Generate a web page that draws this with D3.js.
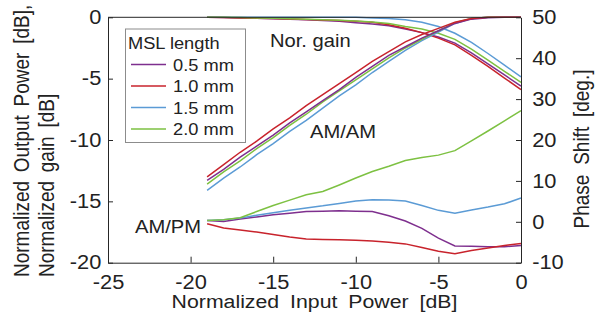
<!DOCTYPE html>
<html>
<head>
<meta charset="utf-8">
<script src="https://cdn.jsdelivr.net/npm/d3@7"></script>
<style>
  body { margin: 0; background: #fff; }
  svg { display: block; font-family: "Liberation Sans", Arial, sans-serif; }
  text { fill: #222; }
</style>
</head>
<body>
<div id="chart"></div>
<script>
// input power points shared by every curve (dB)
const inputPower = [-19, -18, -17, -16, -15, -14, -13, -12, -11, -10, -9, -8, -7, -6, -5, -4, -3, -2, -1, 0];

const mslLengths = ['0.5 mm', '1.0 mm', '1.5 mm', '2.0 mm'];
const lineColors = ['#7E2F8E', '#C8232C', '#5B9BD5', '#7DC142'];

// AM/AM, normalized output power [dB]
const amam05 = [-13.3, -12.4, -11.4, -10.5, -9.6, -8.6, -7.7, -6.8, -5.9, -4.9, -4.0, -3.1, -2.4, -1.7, -1.1, -0.5, -0.15, -0.03, 0, 0];
const amam10 = [-13.0, -12.0, -11.0, -10.1, -9.1, -8.2, -7.2, -6.3, -5.4, -4.5, -3.6, -2.8, -2.0, -1.4, -0.9, -0.4, -0.1, 0, 0, 0];
const amam15 = [-14.1, -13.1, -12.2, -11.2, -10.3, -9.3, -8.4, -7.4, -6.4, -5.5, -4.5, -3.6, -2.7, -1.9, -1.2, -0.5, -0.1, 0, 0, 0];
const amam20 = [-13.6, -12.6, -11.7, -10.7, -9.8, -8.8, -7.9, -6.9, -6.0, -5.1, -4.2, -3.3, -2.5, -1.8, -1.1, -0.45, -0.1, 0, 0, 0];

// normalized gain [dB]
const gain05 = [0, -0.02, -0.05, -0.08, -0.12, -0.16, -0.2, -0.26, -0.33, -0.45, -0.55, -0.68, -0.95, -1.25, -1.6, -2.1, -2.9, -3.8, -4.7, -5.6];
const gain10 = [0, -0.02, -0.05, -0.08, -0.1, -0.13, -0.17, -0.22, -0.27, -0.33, -0.4, -0.6, -0.9, -1.25, -1.7, -2.25, -3.1, -4.0, -4.95, -5.9];
const gain15 = [0, 0, 0, 0, 0, 0, 0, 0, 0, 0, -0.05, -0.1, -0.2, -0.4, -0.75, -1.3, -2.05, -2.95, -3.9, -4.85];
const gain20 = [0, 0, -0.02, -0.05, -0.08, -0.12, -0.16, -0.2, -0.25, -0.3, -0.38, -0.5, -0.75, -0.95, -1.3, -1.8, -2.6, -3.5, -4.4, -5.3];

// AM/PM, phase shift [deg.]
const phase05 = [0.3, 0.1, 0.7, 1.2, 1.7, 2.1, 2.5, 2.6, 2.7, 2.6, 2.5, 1.5, 0.2, -1.6, -4.0, -5.9, -6.0, -6.1, -6.1, -5.8];
const phase10 = [-0.5, -1.5, -2.0, -2.5, -3.1, -3.7, -4.2, -4.3, -4.4, -4.5, -4.7, -5.0, -5.4, -6.3, -7.2, -7.8, -7.0, -6.4, -5.8, -5.3];
const phase15 = [0.3, 0.5, 0.9, 1.6, 2.2, 2.8, 3.4, 3.9, 4.5, 5.1, 5.4, 5.3, 5.1, 4.0, 2.8, 2.1, 2.9, 3.6, 4.4, 5.8];
const phase20 = [0.3, 0.5, 1.0, 2.5, 4.0, 5.3, 6.6, 7.4, 9.0, 10.7, 12.3, 13.6, 15.0, 15.7, 16.3, 17.4, 19.8, 22.2, 24.7, 27.2];

const xTicks = [-25, -20, -15, -10, -5, 0];
const leftTicks = [-20, -15, -10, -5, 0];
const rightTicks = [-10, 0, 10, 20, 30, 40, 50];

const width = 598, height = 321;
const plot = { left: 108, right: 521, top: 17.3, bottom: 262.7 };
const SX = 1.12; // the reference text is a little wider than it is tall

const svg = d3.select('#chart').append('svg')
    .attr('width', width)
    .attr('height', height);

const x = d3.scaleLinear().domain([-25, 0]).range([plot.left, plot.right]);
const yL = d3.scaleLinear().domain([-20, 0]).range([plot.bottom, plot.top]);
const yR = d3.scaleLinear().domain([-10, 50]).range([plot.bottom, plot.top]);

// helper for horizontal text
function label(x0, y0, s, size, anchor) {
    return svg.append('text')
        .attr('transform', `translate(${x0},${y0}) scale(${SX},1)`)
        .attr('text-anchor', anchor || 'start')
        .style('font-size', size + 'px')
        .text(s);
}
// helper for vertical text (reads bottom to top)
function vlabel(x0, y0, s, size, anchor) {
    return svg.append('text')
        .attr('transform', `translate(${x0},${y0}) rotate(-90) scale(1,${SX})`)
        .attr('text-anchor', anchor || 'start')
        .style('font-size', size + 'px')
        .text(s);
}

// curves
const leftLine = d3.line().x((d, i) => x(inputPower[i])).y(d => yL(d));
const rightLine = d3.line().x((d, i) => x(inputPower[i])).y(d => yR(d));

const curves = svg.append('g').attr('fill', 'none').attr('stroke-width', 1.5);
[gain05, gain10, gain15, gain20].forEach((s, k) => {
    curves.append('path').attr('d', leftLine(s)).attr('stroke', lineColors[k]);
});
[amam15, amam20, amam05, amam10].forEach((s, k) => {
    curves.append('path').attr('d', leftLine(s)).attr('stroke', lineColors[[2, 3, 0, 1][k]]);
});
[phase05, phase10, phase15, phase20].forEach((s, k) => {
    curves.append('path').attr('d', rightLine(s)).attr('stroke', lineColors[k]);
});

// axes
const axisColor = '#262626';
const fmt = d => String(d);
const gx = svg.append('g')
    .attr('transform', `translate(0,${plot.bottom})`)
    .call(d3.axisBottom(x).tickValues(xTicks).tickFormat(fmt)
        .tickSizeInner(-6).tickSizeOuter(0).tickPadding(12));
const gl = svg.append('g')
    .attr('transform', `translate(${plot.left},0)`)
    .call(d3.axisLeft(yL).tickValues(leftTicks).tickFormat(fmt)
        .tickSizeInner(-5).tickSizeOuter(0).tickPadding(6));
const gr = svg.append('g')
    .attr('transform', `translate(${plot.right},0)`)
    .call(d3.axisRight(yR).tickValues(rightTicks).tickFormat(fmt)
        .tickSizeInner(-5).tickSizeOuter(0).tickPadding(10));

[gx, gl, gr].forEach(g => {
    g.select('.domain').attr('stroke', axisColor);
    g.selectAll('.tick line').attr('stroke', axisColor);
    g.selectAll('.tick text')
        .style('font-size', '19.5px')
        .style('font-family', '"Liberation Sans", Arial, sans-serif')
        .attr('fill', '#222')
        .attr('transform', `scale(${SX},1)`);
});
gx.selectAll('.tick text').attr('dy', '0.72em');

// top border
svg.append('line')
    .attr('x1', plot.left).attr('x2', plot.right)
    .attr('y1', plot.top).attr('y2', plot.top)
    .attr('stroke', axisColor);

// axis titles
label((plot.left + plot.right) / 2, 308, 'Normalized Input Power [dB]', 19, 'middle')
    .style('word-spacing', '4.5px');

const yTitles = ['Normalized Output Power [dB],', 'Normalized gain [dB]'];
yTitles.forEach((t, i) => {
    vlabel(29 + i * 25, 277, t, 19).style('word-spacing', '3.5px');
});

vlabel(589, 149, 'Phase Shift [deg.]', 19, 'middle').style('word-spacing', '4.5px');

// annotations
label(270, 47, 'Nor. gain', 18);
label(310, 138, 'AM/AM', 18);
label(135, 233, 'AM/PM', 18);

// legend
const legend = svg.append('g');
legend.append('rect')
    .attr('x', 125.5).attr('y', 29)
    .attr('width', 120).attr('height', 113.5)
    .attr('fill', '#fff').attr('stroke', '#8c8c8c');
label(128, 48.5, 'MSL length', 16.3);
mslLengths.forEach((m, i) => {
    const yy = 64.5 + i * 21.5;
    legend.append('line')
        .attr('x1', 131).attr('x2', 166)
        .attr('y1', yy).attr('y2', yy)
        .attr('stroke', lineColors[i]).attr('stroke-width', 1.5);
    label(173, yy + 6, m, 16.3);
});
</script>
</body>
</html>
